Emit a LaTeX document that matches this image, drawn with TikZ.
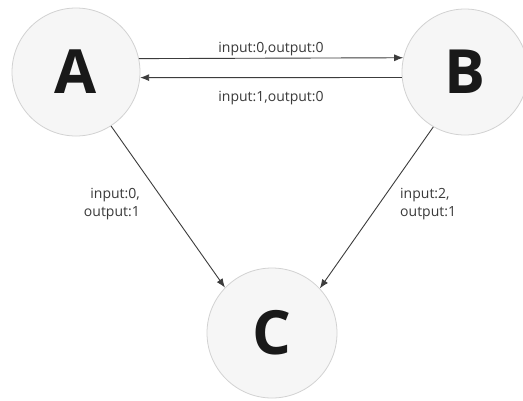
\documentclass[tikz,border=0pt]{standalone}
\usepackage{fontspec}
\setmainfont{Open Sans}
\usetikzlibrary{arrows.meta}
\definecolor{statefill}{HTML}{F6F6F6}
\definecolor{stateline}{HTML}{D2D2D2}
\definecolor{edgecol}{HTML}{3C3C3C}
\definecolor{labelcol}{HTML}{3A3A3A}
\tikzset{
  state/.style={circle, draw=stateline, line width=0.8pt, fill=statefill,
    inner sep=0pt, text=black!90, font=\fontsize{61}{61}\selectfont\bfseries},
  trans/.style={draw=edgecol, line width=0.9pt,
    -{Latex[length=9pt,width=7pt]}},
  lbl/.style={text=labelcol, inner sep=0pt,
    font=\fontsize{14}{18}\selectfont}
}
\begin{document}
\begin{tikzpicture}[x=1pt,y=-1pt]
  \useasboundingbox[fill=white] (0,0) rectangle (523,400);

  % states
  \node[state, minimum size=128pt] (A) at (76,72) {A};
  \node[state, minimum size=126pt] (B) at (465,72) {B};
  \node[state, minimum size=130pt] (C) at (272,333) {C};

  % transitions between A and B
  \draw[trans] (A.12.6) -- (B.167.2);
  \draw[trans] (B.185.5) -- (A.-5.4);

  % transitions into C
  \draw[trans] (A.-57) -- (C.136);
  \draw[trans] (B.-120) -- (C.43);

  % labels
  \node[lbl] (lab) at (271,49) {input:0,output:0};
  \node[lbl] (lba) at (271,98) {input:1,output:0};
  \node[lbl, align=right, anchor=east] (lac) at (140,204) {input:0,\\output:1};
  \node[lbl, align=left, anchor=west] (lbc) at (400,204) {input:2,\\output:1};
\end{tikzpicture}
\end{document}
